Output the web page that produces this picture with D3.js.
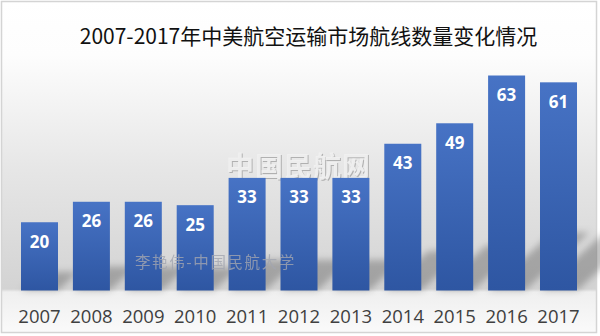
<!DOCTYPE html>
<html>
<head>
<meta charset="utf-8">
<script src="https://cdn.jsdelivr.net/npm/d3@7"></script>
<style>
  html, body { margin: 0; padding: 0; background: #fff; }
  svg { display: block; }
</style>
</head>
<body>
<svg id="chart" width="600" height="336"></svg>
<script>
// 2007-2017 中美航空运输市场航线数量
const years = ["2007","2008","2009","2010","2011","2012","2013","2014","2015","2016","2017"];
const routes = [20, 26, 26, 25, 33, 33, 33, 43, 49, 63, 61];
const titleText = "2007-2017年中美航空运输市场航线数量变化情况";
const watermarkMain = "中国民航网";
const watermarkAuthor = "李艳伟-中国民航大学";

const W = 600, H = 336;
const baseY = 290.5;
const svg = d3.select("#chart");
const defs = svg.append("defs");

// panel background: white fading to grey toward the baseline, light below it
const bg = defs.append("linearGradient").attr("id", "bgGrad")
  .attr("gradientUnits", "userSpaceOnUse").attr("x1", 0).attr("y1", 0).attr("x2", 0).attr("y2", H);
[[0, "#ffffff"], [55, "#fdfdfd"], [170, "#e6e6e6"], [289, "#d3d3d3"], [292, "#efefef"], [336, "#fbfbfb"]]
  .forEach(([y, c]) => bg.append("stop").attr("offset", y / H).attr("stop-color", c));

const barGrad = defs.append("linearGradient").attr("id", "barGrad")
  .attr("x1", 0).attr("y1", 0).attr("x2", 0).attr("y2", 1);
barGrad.append("stop").attr("offset", 0).attr("stop-color", "#4773c5");
barGrad.append("stop").attr("offset", 1).attr("stop-color", "#2e56a2");

defs.append("filter").attr("id", "soft").attr("x", "-50%").attr("y", "-50%").attr("width", "200%").attr("height", "200%")
  .append("feGaussianBlur").attr("stdDeviation", 3.5);

svg.append("rect").attr("x", 1.5).attr("y", 1.5).attr("width", 595).attr("height", 331)
  .attr("fill", "url(#bgGrad)").attr("stroke", "#d4d4d4").attr("stroke-width", 1.5);

const x = d3.scaleBand().domain(years).range([13.55, 584.45]).paddingInner(0.287).paddingOuter(0.1435);
const y = d3.scaleLinear().domain([0, 63]).range([baseY, 75.5]);

// title
svg.append("text").attr("x", 308.5).attr("y", 44).attr("text-anchor", "middle")
  .attr("font-family", "'Noto Sans CJK SC', 'Noto Sans', sans-serif").attr("font-size", 21)
  .attr("fill", "#111").text(titleText);

// perspective shadows cast up and to the right of each bar
const sx = 0.3, sy = 0.27;
svg.append("g").attr("filter", "url(#soft)").selectAll("path").data(years).join("path")
  .attr("d", (d, i) => {
    const x0 = x(d), x1 = x(d) + x.bandwidth(), h = baseY - y(routes[i]);
    return `M${x0},${baseY}L${x1},${baseY}L${x1 + h * sx},${baseY - h * sy}L${x0 + h * sx},${baseY - h * sy}Z`;
  })
  .attr("fill", "#000").attr("opacity", 0.24);

// embossed site watermark
const wm = svg.append("g").attr("font-family", "'Noto Sans CJK SC', sans-serif")
  .attr("font-size", 28).attr("font-weight", 700).attr("letter-spacing", 1);
wm.append("text").attr("x", 227).attr("y", 178).attr("fill", "#9a9a9a").attr("opacity", 0.7).text(watermarkMain);
wm.append("text").attr("x", 226).attr("y", 177).attr("fill", "#f1f1f1").attr("opacity", 0.95).text(watermarkMain);

// bars
svg.append("g").selectAll("rect").data(years).join("rect")
  .attr("x", d => x(d)).attr("width", x.bandwidth())
  .attr("y", (d, i) => y(routes[i])).attr("height", (d, i) => baseY - y(routes[i]))
  .attr("fill", "url(#barGrad)");

// value labels
svg.append("g").selectAll("text").data(years).join("text")
  .attr("x", d => x(d) + x.bandwidth() / 2).attr("y", (d, i) => y(routes[i]) + 25.5)
  .attr("text-anchor", "middle").attr("font-family", "'Open Sans', sans-serif")
  .attr("font-weight", 700).attr("font-size", 17).attr("fill", "#fff")
  .text((d, i) => routes[i]);

// category axis
const axis = svg.append("g").attr("transform", `translate(0,${baseY})`)
  .call(d3.axisBottom(x).tickSize(0).tickPadding(0));
axis.select(".domain").remove();
axis.selectAll("text").attr("dy", null).attr("y", 32)
  .attr("font-family", "'Open Sans', sans-serif").attr("font-size", 18.5).attr("fill", "#404040");

// author watermark
svg.append("text").attr("x", 135).attr("y", 268)
  .attr("font-family", "'Noto Sans CJK SC', sans-serif").attr("font-size", 15.5).attr("letter-spacing", 1.6)
  .attr("fill", "#a3a6b0").attr("opacity", 0.8).text(watermarkAuthor);
</script>
</body>
</html>
